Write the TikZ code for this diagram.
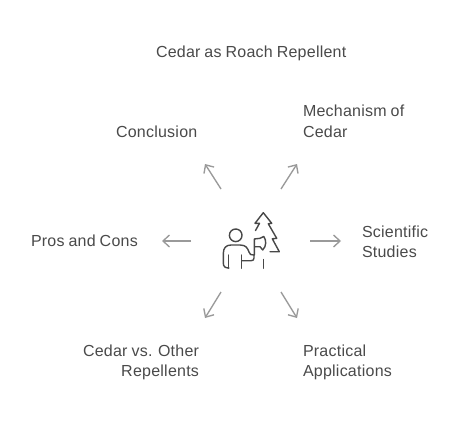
\documentclass[tikz,border=0pt]{standalone}
\usepackage{fontspec}
\setmainfont[LetterSpace=1.5,WordSpace=0.85]{Liberation Sans}
\usetikzlibrary{arrows.meta}
\definecolor{txt}{HTML}{4A4A4A}
\definecolor{arr}{HTML}{9A9A9A}
\definecolor{ico}{HTML}{484848}
\tikzset{
  lbl/.style={text=txt,font=\fontsize{16}{20}\selectfont,inner sep=0pt,outer sep=0pt},
  spoke/.style={draw=arr,line width=1.35pt,-{Straight Barb[length=6.5pt,width=12pt,line width=1.35pt]}},
  icon/.style={draw=ico,line width=1.4pt,line cap=round,line join=round,fill=none}
}
\begin{document}
\begin{tikzpicture}[x=1pt,y=-1pt]
\useasboundingbox (0,0) rectangle (462,422);
\fill[white] (0,0) rectangle (462,422);
\node[lbl,anchor=base west] (title) at (156,57.5) {Cedar as Roach Repellent};
\node[lbl,anchor=base west] (concl) at (116,137) {Conclusion};
\node[lbl,anchor=base west] (mech1) at (303,117) {Mechanism of};
\node[lbl,anchor=base west] (mech2) at (303,137) {Cedar};
\node[lbl,anchor=base west] (sci1) at (362,237) {Scientific};
\node[lbl,anchor=base west] (sci2) at (362,257) {Studies};
\node[lbl,anchor=base west] (pros) at (31,246) {Pros and Cons};
\node[lbl,anchor=base east] (vs1) at (199,356.5) {Cedar vs. Other};
\node[lbl,anchor=base east] (vs2) at (199,376.5) {Repellents};
\node[lbl,anchor=base west] (prac1) at (303,356.5) {Practical};
\node[lbl,anchor=base west] (prac2) at (303,376.5) {Applications};
% spokes
\coordinate (ulA) at (221,189); \coordinate (ulB) at (205,164);
\coordinate (urA) at (281,189); \coordinate (urB) at (297,164);
\coordinate (lA) at (191,241); \coordinate (lB) at (162,241);
\coordinate (rA) at (310,241); \coordinate (rB) at (341,241);
\coordinate (dlA) at (221,292); \coordinate (dlB) at (205,318);
\coordinate (drA) at (281,292); \coordinate (drB) at (297,318);
\draw[spoke] (ulA) -- (ulB);
\draw[spoke] (urA) -- (urB);
\draw[spoke] (lA) -- (lB);
\draw[spoke] (rA) -- (rB);
\draw[spoke] (dlA) -- (dlB);
\draw[spoke] (drA) -- (drB);
% icon: person
\draw[icon] (235.7,235.3) circle (6.3);
\draw[icon] (229,268) .. controls (225,268) and (223.3,266.5) .. (223.3,263)
  -- (223.3,253.5) .. controls (223.3,248) and (226,245) .. (231,245)
  -- (240,245) .. controls (246,245) and (247.5,248) .. (249,252)
  .. controls (249.5,254.5) and (251,255.2) .. (254,255)
  -- (254,258) .. controls (254,260) and (253,260.7) .. (251,260.7) -- (242,260.7);
\draw[icon] (228.5,255) -- (228.5,268.3);
\draw[icon] (241.7,255) -- (241.7,268.3);
% axe
\draw[icon] (254.3,255) -- (254.3,239) -- (260,238.3) -- (263.8,236.5)
  .. controls (266.5,240.5) and (266.5,246) .. (262.7,250)
  -- (260,246.7) -- (254.3,246.7);
% tree
\draw[icon] (255.5,230.5) -- (259.5,223.3) -- (255,223.3) -- (263.3,212.7)
  -- (271.7,223.3) -- (268.3,223.8) -- (276.7,238.3) -- (272.3,238.8)
  -- (279.3,251.7) -- (270,251.7);
\draw[icon] (263.7,259.5) -- (263.7,268.3);
\end{tikzpicture}
\end{document}
